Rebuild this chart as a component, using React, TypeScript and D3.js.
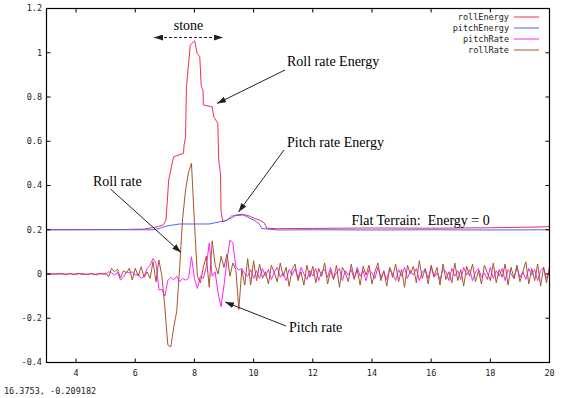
import React from "react";
import * as d3 from "d3";

// ---- axis ticks ----
const xTickValues = [4, 6, 8, 10, 12, 14, 16, 18, 20];
const xTickLabels = ["4", "6", "8", "10", "12", "14", "16", "18", "20"];
const yTickValues = [-0.4, -0.2, 0, 0.2, 0.4, 0.6, 0.8, 1, 1.2];
const yTickLabels = ["-0.4", "-0.2", "0", "0.2", "0.4", "0.6", "0.8", "1", "1.2"];

// ---- series names ----
const seriesNames = ["rollEnergy", "pitchEnergy", "pitchRate", "rollRate"];

// ---- energies (breakpoints) ----
const rollEnergyX = [3.0, 5.6, 6.3, 6.7, 6.95, 7.04, 7.13, 7.27, 7.30, 7.63, 7.65, 7.70, 7.73, 7.86, 8.01, 8.09, 8.18, 8.23, 8.29, 8.30, 8.60, 8.65, 8.79, 8.82, 8.88, 8.90, 8.96, 9.08, 9.28, 9.40, 9.65, 9.90, 10.05, 10.20, 10.35, 10.45, 10.8, 12, 14, 16, 18, 19.5, 20];
const rollEnergyY = [0.2, 0.201, 0.203, 0.212, 0.222, 0.244, 0.425, 0.515, 0.53, 0.545, 0.583, 0.62, 0.847, 1.035, 1.054, 0.997, 0.982, 0.847, 0.832, 0.764, 0.756, 0.711, 0.681, 0.515, 0.455, 0.282, 0.236, 0.244, 0.255, 0.267, 0.27, 0.26, 0.25, 0.244, 0.232, 0.207, 0.205, 0.206, 0.208, 0.207, 0.209, 0.212, 0.214];

const pitchEnergyX = [3.0, 6.6, 6.8, 7.0, 7.2, 7.5, 8.5, 8.85, 9.1, 9.25, 9.65, 9.8, 10.05, 10.2, 10.27, 10.8, 12, 14, 16, 18, 20];
const pitchEnergyY = [0.2, 0.2, 0.205, 0.215, 0.22, 0.226, 0.226, 0.236, 0.242, 0.262, 0.267, 0.257, 0.24, 0.225, 0.206, 0.199, 0.2, 0.199, 0.2, 0.199, 0.2];

// ---- rates (sampled every 0.1 from 3.0 to 20.0) ----
const rateStart = 3.0;
const rateStep = 0.1;
const rollRate = [
  0.000, 0.002, -0.002, 0.001, -0.001, 0.003, -0.002, 0.000, 0.002, -0.003,
  0.001, 0.003, -0.002, 0.000, -0.003, 0.002, 0.000, -0.004, 0.003, -0.002,
  0.005, -0.012, 0.026, 0.010, 0.022, -0.018, 0.015, 0.005, 0.026, -0.027,
  0.026, -0.010, 0.033, -0.015, 0.010, -0.020, 0.056, -0.035, 0.063, -0.010,
  -0.150, -0.320, -0.330, -0.240, -0.170, 0.030, 0.250, 0.380, 0.460, 0.500,
  0.230, -0.010, -0.040, 0.030, 0.080, -0.060, 0.150, 0.040, 0.000, 0.080,
  0.030, 0.090, -0.010, 0.050, 0.020, -0.160, 0.020, -0.050, 0.070, -0.050,
  0.060, -0.030, 0.045, -0.020, 0.010, -0.045, 0.040, 0.005, -0.035, 0.050,
  -0.010, 0.030, -0.055, 0.020, 0.045, -0.030, 0.010, -0.050, 0.040, -0.015,
  0.035, -0.040, 0.025, -0.010, 0.050, -0.045, 0.015, -0.025, 0.040, -0.060,
  0.030, 0.005, -0.035, 0.045, -0.020, 0.020, -0.050, 0.035, -0.005, 0.040,
  -0.045, 0.010, 0.050, -0.030, 0.015, -0.055, 0.030, -0.015, 0.045, -0.035,
  0.020, -0.060, 0.040, 0.000, 0.035, -0.040, 0.060, -0.020, 0.025, -0.045,
  0.040, -0.010, 0.030, -0.050, 0.045, -0.025, 0.010, -0.040, 0.050, -0.030,
  0.020, -0.055, 0.035, -0.010, 0.045, -0.035, 0.015, -0.045, 0.040, 0.005,
  -0.030, 0.050, -0.040, 0.020, -0.015, 0.045, -0.050, 0.030, -0.020, 0.040,
  -0.035, 0.010, 0.055, -0.045, 0.025, -0.030, 0.045, -0.055, 0.030, -0.040,
  0.035,
];
const pitchRate = [
  0.000, -0.002, 0.002, 0.000, 0.003, -0.001, 0.001, -0.003, 0.002, 0.000,
  -0.002, 0.001, 0.003, -0.002, 0.000, 0.002, -0.003, 0.001, 0.000, 0.004,
  -0.003, 0.010, 0.005, -0.005, 0.008, -0.027, -0.015, 0.010, 0.005, 0.010,
  -0.005, 0.000, -0.020, -0.010, 0.026, 0.040, 0.070, 0.050, -0.072, -0.070,
  -0.100, -0.030, -0.015, -0.027, -0.010, -0.035, -0.020, -0.028, -0.020, 0.078,
  -0.020, -0.065, -0.010, -0.020, 0.033, 0.140, -0.010, 0.010, -0.087, -0.148,
  -0.050, 0.063, 0.154, 0.140, 0.033, 0.018, 0.025, 0.000, -0.010, 0.020,
  -0.020, 0.015, -0.020, 0.025, -0.010, 0.020, -0.025, 0.010, 0.030, -0.015,
  0.005, -0.030, 0.020, -0.005, 0.025, -0.020, 0.030, 0.000, -0.025, 0.015,
  -0.010, 0.025, -0.030, 0.010, 0.020, -0.015, 0.030, -0.020, 0.005, 0.025,
  -0.030, 0.015, -0.005, 0.020, -0.025, 0.030, -0.010, 0.015, -0.030, 0.020,
  0.005, -0.020, 0.030, -0.015, 0.010, -0.025, 0.025, 0.000, -0.030, 0.020,
  -0.010, 0.030, -0.020, 0.015, -0.005, 0.025, -0.030, 0.010, 0.020, -0.020,
  0.030, -0.015, 0.005, -0.025, 0.020, 0.010, -0.030, 0.025, -0.010, 0.015,
  -0.025, 0.030, -0.005, 0.020, -0.030, 0.010, 0.025, -0.015, 0.005, -0.025,
  0.030, -0.020, 0.015, -0.010, 0.025, -0.030, 0.020, 0.000, -0.020, 0.030,
  -0.015, 0.010, -0.025, 0.025, -0.005, 0.020, -0.030, 0.015, 0.030, -0.020,
  0.010,
];

const statusText = "16.3753, -0.209182";

const W = 561;
const H = 398;
const M = { left: 46.5, right: 549.5, top: 8.5, bottom: 362.5 };
const colors: Record<string, string> = {
  rollEnergy: "#f2304f",
  pitchEnergy: "#5c5cff",
  pitchRate: "#ff20ff",
  rollRate: "#a5562e",
};
const mono = "'DejaVu Sans Mono', 'Liberation Mono', monospace";
const serif = "'Liberation Serif', 'DejaVu Serif', serif";

export default function App() {
  const x = d3.scaleLinear().domain([3, 20]).range([M.left, M.right]);
  const y = d3.scaleLinear().domain([-0.4, 1.2]).range([M.bottom, M.top]);

  const toPts = (xs: number[], ys: number[]) => xs.map((v, i) => [v, ys[i]] as [number, number]);
  const ratePts = (vals: number[]) =>
    vals.map((v, i) => [rateStart + i * rateStep, v] as [number, number]);

  const data: Record<string, [number, number][]> = {
    rollEnergy: toPts(rollEnergyX, rollEnergyY),
    pitchEnergy: toPts(pitchEnergyX, pitchEnergyY),
    pitchRate: ratePts(pitchRate),
    rollRate: ratePts(rollRate),
  };

  const line = d3
    .line<[number, number]>()
    .x((d) => x(d[0]))
    .y((d) => y(d[1]));

  const tickLen = 4;

  const arrows = [
    { x1: 285, y1: 70, x2: 217, y2: 103.5 },
    { x1: 284, y1: 150, x2: 238.5, y2: 212 },
    { x1: 110.5, y1: 189, x2: 181, y2: 252.5 },
    { x1: 286, y1: 326, x2: 225, y2: 302 },
  ];

  return (
    <svg
      width={W}
      height={H}
      viewBox={`0 0 ${W} ${H}`}
      style={{ position: "absolute", left: 0, top: 0, background: "#fff" }}
    >
      <defs>
        <clipPath id="plotClip">
          <rect x={M.left} y={M.top} width={M.right - M.left} height={M.bottom - M.top} />
        </clipPath>
        <marker
          id="arrowHead"
          markerUnits="userSpaceOnUse"
          markerWidth={9}
          markerHeight={6}
          refX={9}
          refY={3}
          orient="auto-start-reverse"
        >
          <path d="M0,0 L9,3 L0,6 Z" fill="#222" />
        </marker>
      </defs>
      <rect x={0} y={0} width={W} height={H} fill="#fff" />

      {/* series */}
      <g clipPath="url(#plotClip)">
        {seriesNames.map((name) => (
          <path
            key={name}
            d={line(data[name]) || ""}
            fill="none"
            stroke={colors[name]}
            strokeWidth={1}
            strokeLinejoin="miter"
          />
        ))}
      </g>

      {/* frame */}
      <rect
        x={M.left}
        y={M.top}
        width={M.right - M.left}
        height={M.bottom - M.top}
        fill="none"
        stroke="#000"
        strokeWidth={1.2}
      />

      {/* y ticks */}
      {yTickValues.map((v, i) => (
        <g key={"y" + i}>
          <line x1={M.left} x2={M.left + tickLen} y1={y(v)} y2={y(v)} stroke="#000" />
          <line x1={M.right} x2={M.right - tickLen} y1={y(v)} y2={y(v)} stroke="#000" />
          <text
            x={42}
            y={y(v)}
            dy="0.35em"
            textAnchor="end"
            fontFamily={mono}
            fontSize={8.5}
            fill="#222"
          >
            {yTickLabels[i]}
          </text>
        </g>
      ))}

      {/* x ticks */}
      {xTickValues.map((v, i) => (
        <g key={"x" + i}>
          <line x1={x(v)} x2={x(v)} y1={M.bottom} y2={M.bottom - tickLen} stroke="#000" />
          <line x1={x(v)} x2={x(v)} y1={M.top} y2={M.top + tickLen} stroke="#000" />
          <text
            x={x(v)}
            y={376}
            textAnchor="middle"
            fontFamily={mono}
            fontSize={8.5}
            fill="#222"
          >
            {xTickLabels[i]}
          </text>
        </g>
      ))}

      {/* legend */}
      {seriesNames.map((name, i) => (
        <g key={"lg" + name}>
          <text
            x={509}
            y={17 + i * 11}
            dy="0.35em"
            textAnchor="end"
            fontFamily={mono}
            fontSize={8.5}
            fill="#222"
          >
            {name}
          </text>
          <line
            x1={514}
            x2={539}
            y1={17 + i * 11}
            y2={17 + i * 11}
            stroke={colors[name]}
            strokeWidth={1}
          />
        </g>
      ))}

      {/* status text */}
      <text x={4} y={393.5} fontFamily={mono} fontSize={8.5} fill="#222">
        {statusText}
      </text>

      {/* annotations */}
      <g fontFamily={serif} fontSize={14} fill="#000">
        <text x={188.5} y={30} textAnchor="middle">stone</text>
        <text x={287} y={66}>Roll rate Energy</text>
        <text x={287} y={147}>Pitch rate Energy</text>
        <text x={93} y={186}>Roll rate</text>
        <text x={351.5} y={225} style={{ whiteSpace: "pre" }}>{"Flat Terrain:  Energy = 0"}</text>
        <text x={289} y={332}>Pitch rate</text>
      </g>
      <line
        x1={154}
        y1={37.5}
        x2={223}
        y2={37.5}
        stroke="#222"
        strokeWidth={1}
        strokeDasharray="3,2"
        markerStart="url(#arrowHead)"
        markerEnd="url(#arrowHead)"
      />
      {arrows.map((a, i) => (
        <line
          key={"ar" + i}
          x1={a.x1}
          y1={a.y1}
          x2={a.x2}
          y2={a.y2}
          stroke="#222"
          strokeWidth={1}
          markerEnd="url(#arrowHead)"
        />
      ))}
    </svg>
  );
}
